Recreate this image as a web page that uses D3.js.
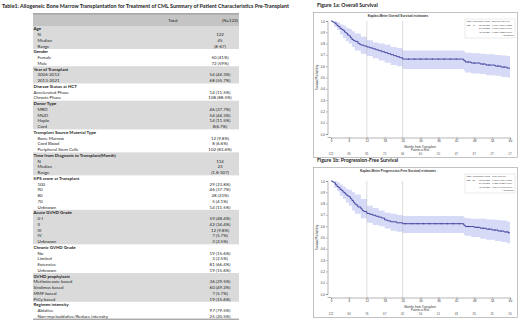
<!DOCTYPE html>
<html lang="en">
<head>
<meta charset="UTF-8">
<title>CML transplant table and survival curves</title>
<style>
  body { margin: 0; background: #fff; }
  svg { display: block; }
  .tbl text { font-family: Lato, "Liberation Sans", sans-serif; font-size: 4.4px; fill: #222; }
  .tbl .grp { font-weight: bold; }
  .km text { font-family: "Liberation Sans", Arial, sans-serif; fill: #333; }
  .km .tick text { font-size: 3.1px; }
  .km .domain, .km .tick line { stroke: #444; stroke-width: 0.4; }
</style>
</head>
<body>
<svg width="520" height="322"></svg>
<script src="https://d3js.org/d3.v7.min.js"></script>
<script>
// ---------- table data ----------
var tableTitle = "Table1: Allogeneic Bone Marrow  Transplantation  for  Treatment of CML Summary of Patient Characteristics Pre-Transplant";
var sections = ["Age", "Gender", "Year of Transplant", "Disease Status at HCT", "Donor Type",
  "Transplant Source Material Type", "Time from Diagnosis to Transplant(Month)", "KPS score at Transplant",
  "Acute GVHD Grade", "Chronic GVHD Grade", "GVHD prophylaxis", "Regimen intensity"];
var itemLabels = [
  ["N", "Median", "Range"],
  ["Female", "Male"],
  ["2006-2012", "2013-2021"],
  ["Accelerated Phase", "Chronic Phase"],
  ["MRD", "MUD", "Haplo", "Cord"],
  ["Bone Marrow", "Cord Blood", "Peripheral Stem Cells"],
  ["N", "Median", "Range"],
  ["100", "90", "80", "70", "Unknown"],
  ["0-I", "II", "III", "IV", "Unknown"],
  ["No", "Limited", "Extensive", "Unknown"],
  ["Methotrexate based", "Sirolimus based", "MMF based", "PtCy based"],
  ["Ablative", "Non-myeloablative/Reduce intensity"]
];
var itemValues = [
  ["122", "45", "(8-67)"],
  ["50 (41%)", "72 (59%)"],
  ["54 (44.3%)", "68 (55.7%)"],
  ["14 (11.5%)", "108 (88.5%)"],
  ["46 (37.7%)", "54 (44.3%)", "14 (11.5%)", "8(6.7%)"],
  ["12 (9.8%)", "8 (6.6%)", "102 (83.6%)"],
  ["114", "23", "(1.8-307)"],
  ["29 (23.8%)", "46 (37.7%)", "28 (23%)", "5 (4.1%)", "14 (11.5%)"],
  ["59 (48.4%)", "42 (34.4%)", "12 (9.8%)", "7 (5.7%)", "3 (2.5%)"],
  ["19 (15.6%)", "3 (2.5%)", "81 (66.4%)", "19 (15.6%)"],
  ["36 (29.5%)", "60 (49.2%)", "7 (5.7%)", "19 (15.6%)"],
  ["97 (79.5%)", "25 (20.5%)"]
];
var flushItems = ["Accelerated Phase", "Chronic Phase", "Methotrexate based", "Sirolimus based", "MMF based", "PtCy based"];
var headerCols = ["Total", "(N=122)"];

// ---------- survival data ----------
var monthTicks = [0, 6, 12, 18, 24, 30, 36, 42, 48, 54, 60];
var probTicks = [0, 0.1, 0.2, 0.3, 0.4, 0.5, 0.6, 0.7, 0.8, 0.9, 1.0];
var markMonths = [12, 24];

var osTime = [0,0.5,1,1.5,2,2.5,3,3.5,4,4.5,5,5.5,6,6.5,7,7.5,8,9,9.5,10,11,12,13,14,15,16,17,18,19,20,21,22,23,24,44.5,45,47,50,52,55,57,59,60];
var osSurv = [1,.992,.984,.975,.959,.951,.934,.926,.918,.902,.893,.877,.869,.852,.836,.828,.820,.803,.795,.787,.779,.770,.762,.754,.745,.737,.728,.720,.711,.702,.693,.684,.675,.663,.650,.637,.628,.619,.610,.601,.592,.583,.583];
var bandTime = [0,1,2,3,4,5,6,7,8,10,12,14,16,18,20,22,24,44.5,45,47,50,52,55,57,59,60];
var osLow  = [1,.95,.92,.88,.85,.82,.80,.77,.74,.71,.69,.67,.65,.63,.61,.60,.575,.56,.545,.535,.53,.52,.515,.505,.50,.50];
var osHigh = [1,1,.99,.97,.96,.94,.93,.91,.89,.86,.83,.81,.80,.79,.77,.76,.74,.73,.72,.715,.71,.705,.70,.695,.69,.69];
var osCensor = [26,28,30,32,34,36,38,40,42,46,48,51,53,56,58];
var osAtRisk = [122,96,81,72,66,60,55,47,37,27,17];
var osLegend = [
  ["Total", "Failed", "Time Point", "Survival (95% CI)"],
  ["122", "46", "12 Months", "0.770 (0.684-0.835)"],
  ["", "", "24 Months", "0.663 (0.570-0.741)"],
  ["", "", "48 Months", "0.628 (0.532-0.710)"]
];

var pfsTime = [0,0.5,1,1.5,2,2.5,3,3.5,4,4.5,5,5.5,6,6.5,7,7.5,8,8.5,9,10,10.5,11,12,13,14,15,16,17,18,19,20,22,24,44.5,45,48,50,52,54,56,58,59.5,60];
var pfsSurv = [1,.992,.984,.967,.951,.943,.926,.918,.902,.893,.877,.869,.861,.844,.828,.811,.795,.787,.770,.754,.738,.730,.713,.705,.697,.688,.680,.672,.655,.647,.639,.630,.622,.609,.597,.590,.582,.574,.566,.557,.549,.540,.540];
var pfsLow  = [1,.94,.91,.87,.84,.81,.78,.74,.71,.67,.63,.61,.60,.58,.56,.55,.54,.525,.515,.505,.49,.48,.47,.46,.45,.45];
var pfsHigh = [1,1,.99,.97,.95,.93,.92,.90,.88,.84,.78,.76,.74,.72,.71,.70,.69,.68,.67,.665,.665,.66,.655,.65,.64,.64];
var pfsCensor = [25,27,29,31,33,35,37,39,41,43,46,49,51,53,55,57,59];
var pfsAtRisk = [122,94,76,67,62,56,51,43,35,25,16];
var pfsLegend = [
  ["Total", "Failed", "Time Point", "PFS (95% CI)"],
  ["122", "56", "12 Months", "0.713 (0.624-0.785)"],
  ["", "", "24 Months", "0.622 (0.528-0.701)"],
  ["", "", "48 Months", "0.590 (0.493-0.674)"]
];

var svg = d3.select("svg");

// ================= TABLE =================
var tbl = svg.append("g").attr("class", "tbl");
var tblLeft = 33, tblRight = 239, valX = 220;

tbl.append("text")
  .attr("x", 2).attr("y", 7.5)
  .attr("textLength", 287).attr("lengthAdjust", "spacingAndGlyphs")
  .style("font-weight", "bold").style("font-size", "5.2px")
  .text(tableTitle);

// header band
tbl.append("rect").attr("x", tblLeft).attr("y", 13.5).attr("width", tblRight - tblLeft).attr("height", 12.5)
  .attr("fill", "#c4c4c4");
tbl.append("line").attr("x1", tblLeft).attr("x2", tblRight).attr("y1", 13.8).attr("y2", 13.8)
  .attr("stroke", "#7a7a7a").attr("stroke-width", 0.8);
tbl.append("text").attr("x", 173).attr("y", 21.5).attr("text-anchor", "middle").text(headerCols[0]);
tbl.append("text").attr("x", 230).attr("y", 21.5).attr("text-anchor", "middle").text(headerCols[1]);

// flatten rows
var rows = [];
sections.forEach(function(s, i) {
  rows.push({label: s, value: "", grp: true, sec: i});
  itemLabels[i].forEach(function(l, j) {
    rows.push({label: l, value: itemValues[i][j], grp: false, sec: i});
  });
});

var rowY = d3.scaleBand().domain(d3.range(rows.length)).range([26, 319]);

// shaded sections (every other group)
sections.forEach(function(s, i) {
  if (i % 2 !== 0) return;
  var idx = rows.map(function(r, k) { return r.sec === i ? k : -1; }).filter(function(k) { return k >= 0; });
  tbl.append("rect")
    .attr("x", tblLeft).attr("width", tblRight - tblLeft)
    .attr("y", rowY(idx[0])).attr("height", rowY.bandwidth() * idx.length)
    .attr("fill", "#dadada");
});

var rg = tbl.selectAll("g.row").data(rows).enter().append("g")
  .attr("transform", function(d, i) { return "translate(0," + (rowY(i) + rowY.bandwidth() * 0.78) + ")"; });
rg.append("text")
  .attr("class", function(d) { return d.grp ? "grp" : null; })
  .attr("x", function(d) { return d.grp || flushItems.indexOf(d.label) >= 0 ? tblLeft + 0.5 : tblLeft + 4.5; })
  .text(function(d) { return d.label; });
rg.append("text").attr("x", valX).attr("text-anchor", "middle").text(function(d) { return d.value; });

tbl.append("line").attr("x1", tblLeft).attr("x2", tblRight).attr("y1", 319.2).attr("y2", 319.2)
  .attr("stroke", "#666").attr("stroke-width", 0.8);

// ================= KM PANELS =================
function stepAt(times, vals, t) {
  var i = d3.bisectRight(times, t) - 1;
  return vals[Math.max(0, i)];
}

function drawKM(off, top, boxH, figTitle, plotTitle, time, surv, low, high, censor, atRisk, legend) {
  var g = svg.append("g").attr("class", "km");
  var x = d3.scaleLinear().domain([0, 60]).range([331, 510]);
  var y = d3.scaleLinear().domain([0, 1]).range([134 + off, 21 + off]);
  var axisY = 137.5 + off, axisX = 327.5;

  g.append("text").attr("x", 317).attr("y", top - 5.5)
    .attr("textLength", figTitle.length * 2.25).attr("lengthAdjust", "spacingAndGlyphs")
    .style("font-family", "Lato, sans-serif").style("font-weight", "bold").style("font-size", "5.6px").style("fill", "#222")
    .text(figTitle);

  g.append("rect").attr("x", 313.5).attr("y", top).attr("width", 204).attr("height", boxH)
    .attr("fill", "none").attr("stroke", "#9a9a9a").attr("stroke-width", 0.6);

  g.append("text").attr("x", 398).attr("y", top + 4.2).attr("text-anchor", "middle")
    .style("font-size", "3.2px").style("font-weight", "bold").text(plotTitle);

  // confidence band
  var band = d3.area().curve(d3.curveStepAfter)
    .x(function(d, i) { return x(bandTime[i]); })
    .y0(function(d, i) { return y(low[i]); })
    .y1(function(d, i) { return y(high[i]); });
  g.append("path").datum(bandTime).attr("d", band).attr("fill", "#d6daf6");

  // reference lines at 12 and 24 months
  g.selectAll("line.ref").data(markMonths).enter().append("line")
    .attr("x1", function(d) { return x(d); }).attr("x2", function(d) { return x(d); })
    .attr("y1", y(1)).attr("y2", axisY)
    .attr("stroke", "#b4b4b4").attr("stroke-width", 0.45);

  // survival step line
  var line = d3.line().curve(d3.curveStepAfter)
    .x(function(d, i) { return x(time[i]); })
    .y(function(d, i) { return y(surv[i]); });
  g.append("path").datum(time).attr("d", line)
    .attr("fill", "none").attr("stroke", "#27278f").attr("stroke-width", 0.8);

  // censor marks
  g.selectAll("path.cens").data(censor).enter().append("path")
    .attr("d", function(d) {
      var cx = x(d), cy = y(stepAt(time, surv, d));
      return "M" + (cx - 0.8) + "," + cy + "h1.6M" + cx + "," + (cy - 0.8) + "v1.6";
    })
    .attr("stroke", "#27278f").attr("stroke-width", 0.35);

  // axes
  g.append("g").attr("transform", "translate(" + axisX + ",0)")
    .call(d3.axisLeft(y).tickValues(probTicks).tickFormat(d3.format(".1f")).tickSize(1.5).tickPadding(1));
  g.append("g").attr("transform", "translate(0," + axisY + ")")
    .call(d3.axisBottom(x).tickValues(monthTicks).tickSize(1.5).tickPadding(1));
  g.append("line").attr("x1", axisX).attr("x2", x(0)).attr("y1", axisY).attr("y2", axisY)
    .attr("stroke", "#444").attr("stroke-width", 0.4);

  g.append("text").attr("transform", "translate(318," + y(0.5) + ") rotate(-90)")
    .attr("text-anchor", "middle").style("font-size", "3px").text("Survival Probability");
  g.append("text").attr("x", 420).attr("y", 147.5 + off).attr("text-anchor", "middle")
    .style("font-size", "3px").text("Months from Transplant");
  g.append("text").attr("x", 420).attr("y", 150.6 + off).attr("text-anchor", "middle")
    .style("font-size", "2.6px").text("Patients at Risk");

  g.selectAll("text.risk").data(atRisk).enter().append("text")
    .attr("x", function(d, i) { return x(monthTicks[i]); }).attr("y", 154.5 + off)
    .attr("text-anchor", "middle").style("font-size", "3px").style("fill", "#555").text(function(d) { return d; });

  // legend box
  var colX = [1.5, 7.5, 14, 27];
  var lg = g.append("g").attr("transform", "translate(465," + (top + 6.5) + ")");
  lg.append("rect").attr("width", 50).attr("height", 19).attr("fill", "#fff")
    .attr("stroke", "#bbb").attr("stroke-width", 0.3);
  legend.forEach(function(row, r) {
    lg.selectAll(null).data(row).enter().append("text")
      .attr("x", function(d, c) { return colX[c]; })
      .attr("y", 3.2 + r * 3.5)
      .style("font-size", "2.3px").text(function(d) { return d; });
  });
  lg.append("text").attr("x", 48.5).attr("y", 17.2).attr("text-anchor", "end")
    .style("font-size", "2.3px").text("+ Censored");
}

drawKM(0, 12.5, 145, "Figure 1a: Overall Survival", "Kaplan-Meier Overall Survival estimates",
  osTime, osSurv, osLow, osHigh, osCensor, osAtRisk, osLegend);
drawKM(160, 167.5, 150, "Figure 1b: Progression-Free Survival", "Kaplan-Meier Progression-Free Survival estimates",
  pfsTime, pfsSurv, pfsLow, pfsHigh, pfsCensor, pfsAtRisk, pfsLegend);
</script>
</body>
</html>
